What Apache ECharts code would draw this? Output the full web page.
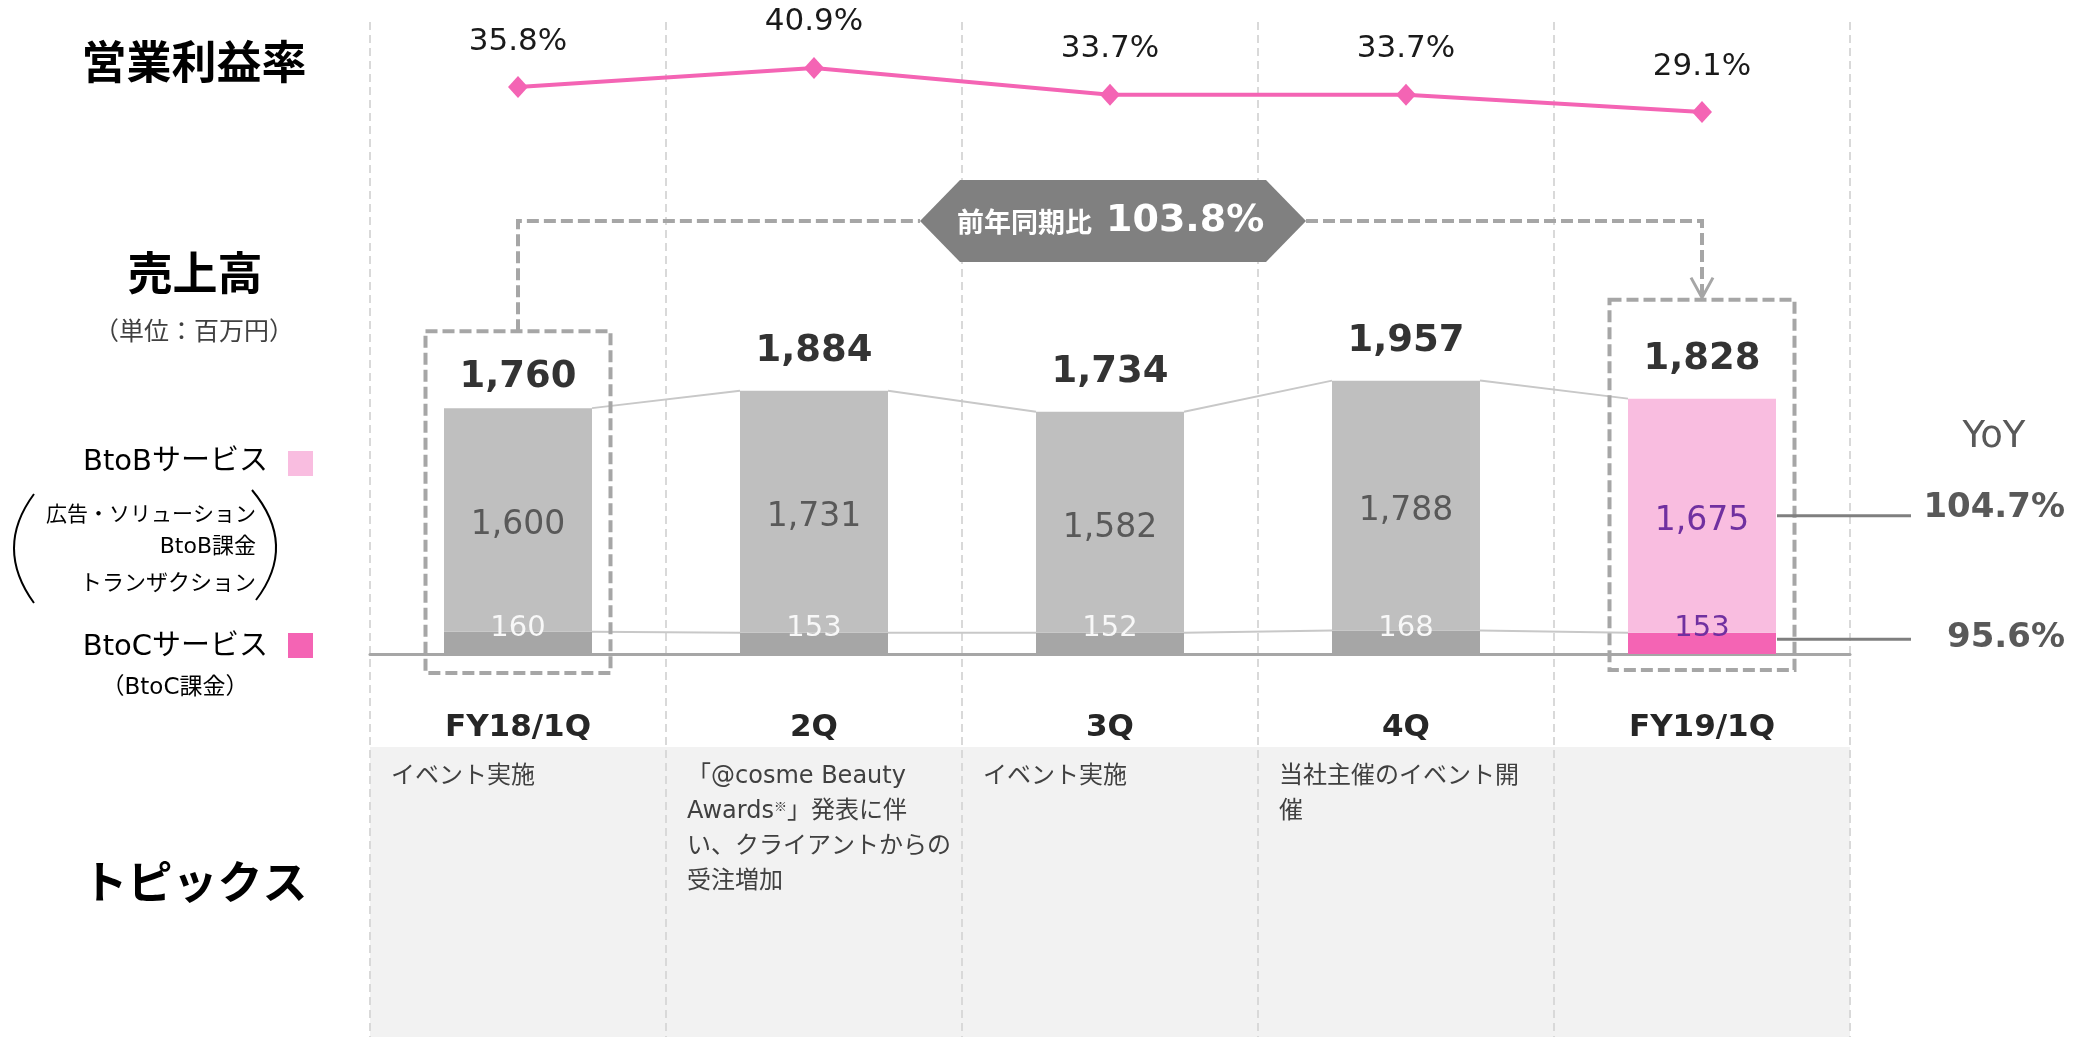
<!DOCTYPE html>
<html>
<head>
<meta charset="utf-8">
<title>営業利益率・売上高</title>
<script src="https://cdn.jsdelivr.net/npm/echarts@6/dist/echarts.min.js"></script>
<style>
  html, body { margin: 0; padding: 0; background: #fff; }
  #chart { width: 2091px; height: 1037px; }
</style>
</head>
<body>
<div id="chart"></div>
<script>
// データ
const categories = ['FY18/1Q', '2Q', '3Q', '4Q', 'FY19/1Q'];
const btobValues = [1600, 1731, 1582, 1788, 1675];
const btocValues = [160, 153, 152, 168, 153];
const totalValues = [1760, 1884, 1734, 1957, 1828];
const marginValues = [35.8, 40.9, 33.7, 33.7, 29.1];
const yoyLabels = ['104.7%', '95.6%'];
const badgeLabel = '103.8%';
const topics = [
    ['イベント実施'],
    ['「@cosme Beauty', '{n|Awards}{s|※}{n|」発表に伴}', 'い、クライアントからの', '受注増加'],
    ['イベント実施'],
    ['当社主催のイベント開', '催'],
    []
];
const currentIdx = 4;

const LATIN = '"DejaVu Sans", "Noto Sans CJK JP", sans-serif';
const CJK = '"Noto Sans CJK JP", "DejaVu Sans", sans-serif';
const GREY_B = '#BFBFBF', GREY_C = '#A6A6A6';
const PINK_B = '#F9BDE0', PINK_C = '#F464B4', PURPLE = '#7030A0';

const comma = v => String(v).replace(/\B(?=(\d{3})+(?!\d))/g, ',');

const chart = echarts.init(document.getElementById('chart'));

const option = {
    animation: false,
    grid: [
        { left: 370, width: 1480, top: 304.75, height: 349.25 },   // 売上高
        { left: 370, width: 1480, top: 34, height: 186.5 },        // 営業利益率
        { left: 370, width: 1480, top: 22, bottom: 0 }             // 区切り線
    ],
    xAxis: [
        {
            gridIndex: 0, type: 'category', data: categories,
            axisLine: { lineStyle: { color: '#A6A6A6', width: 3 } },
            axisTick: { show: false },
            axisLabel: { margin: 58, fontSize: 31, fontWeight: 'bold', fontFamily: LATIN, color: '#262626' }
        },
        { gridIndex: 1, type: 'category', data: categories, show: false },
        {
            gridIndex: 2, type: 'category', data: categories,
            axisLine: { show: false }, axisTick: { show: false }, axisLabel: { show: false },
            splitLine: { show: true, lineStyle: { color: '#D9D9D9', width: 2, type: [8, 5] } }
        }
    ],
    yAxis: [
        { gridIndex: 0, type: 'value', min: 0, max: 2500, show: false },
        { gridIndex: 1, type: 'value', min: 0, max: 50, show: false },
        { gridIndex: 2, type: 'value', show: false }
    ],
    series: [
        {
            name: 'BtoCサービス', type: 'bar', stack: 'sales', barWidth: '50%',
            xAxisIndex: 0, yAxisIndex: 0,
            data: btocValues.map((v, i) => ({
                value: v,
                itemStyle: { color: i === currentIdx ? PINK_C : GREY_C },
                label: { color: i === currentIdx ? PURPLE : '#F8F8F8' }
            })),
            label: { show: true, position: 'insideBottom', distance: 11, fontSize: 29, fontFamily: LATIN }
        },
        {
            name: 'BtoBサービス', type: 'bar', stack: 'sales', barWidth: '50%',
            xAxisIndex: 0, yAxisIndex: 0,
            data: btobValues.map((v, i) => ({
                value: v,
                itemStyle: { color: i === currentIdx ? PINK_B : GREY_B },
                label: { color: i === currentIdx ? PURPLE : '#595959' }
            })),
            label: { show: true, position: 'inside', offset: [0, 6], fontSize: 33, fontFamily: LATIN, formatter: p => comma(p.value) }
        },
        {
            // 合計ラベル
            name: '合計', type: 'scatter', xAxisIndex: 0, yAxisIndex: 0,
            symbolSize: 1, itemStyle: { color: 'rgba(0,0,0,0)' },
            data: totalValues.map((v, i) => ({ value: v, label: i === 0 ? { offset: [0, 8] } : {} })),
            label: {
                show: true, position: 'top', distance: 20,
                fontSize: 37, fontWeight: 'bold', fontFamily: LATIN, color: '#000',
                formatter: p => comma(p.value)
            }
        },
        {
            // 棒グラフ間の連結線
            type: 'custom', xAxisIndex: 0, yAxisIndex: 0, silent: true, z: 1,
            data: totalValues.slice(0, -1).map((v, i) => [i, v, totalValues[i + 1], btocValues[i], btocValues[i + 1]]),
            encode: { x: 0, y: 1 },
            renderItem: (params, api) => {
                const i = api.value(0);
                const half = api.size([1, 0])[0] * 0.25;
                const a = api.coord([i, api.value(1)]);
                const b = api.coord([i + 1, api.value(2)]);
                const c = api.coord([i, api.value(3)]);
                const d = api.coord([i + 1, api.value(4)]);
                const st = { stroke: '#C8C8C8', lineWidth: 2 };
                return {
                    type: 'group',
                    children: [
                        { type: 'line', shape: { x1: a[0] + half, y1: a[1], x2: b[0] - half, y2: b[1] }, style: st },
                        { type: 'line', shape: { x1: c[0] + half, y1: c[1], x2: d[0] - half, y2: d[1] }, style: st }
                    ]
                };
            }
        },
        {
            name: '営業利益率', type: 'line', xAxisIndex: 1, yAxisIndex: 1,
            data: marginValues,
            symbol: 'diamond', symbolSize: [20, 22],
            lineStyle: { color: PINK_C, width: 4 },
            itemStyle: { color: PINK_C },
            label: { show: true, position: 'top', distance: 19, formatter: '{c}%', fontSize: 31, fontFamily: LATIN, color: '#1A1A1A' }
        }
    ]
};
chart.setOption(option);

// 注釈（座標はスケールから求める）
const toPx = (i, v) => chart.convertToPixel({ seriesIndex: 0 }, [i, v]);
const x0 = toPx(0, 0)[0];
const band = toPx(1, 0)[0] - x0;
const baseY = toPx(0, 0)[1];
const cx0 = x0, cx2 = toPx(2, 0)[0], cx4 = toPx(4, 0)[0];
const LINK_Y = 221;

function txt(x, y, text, size, opt) {
    opt = opt || {};
    return {
        type: 'text', x: x, y: y, z: 100,
        style: Object.assign({
            text: text, fontSize: size, fontFamily: opt.family || CJK, fontWeight: opt.weight || 'normal',
            fill: opt.color || '#000',
            textAlign: opt.align || 'center', align: opt.align || 'center',
            textVerticalAlign: 'middle', verticalAlign: 'middle'
        }, opt.extra || {})
    };
}
const dashed = { stroke: '#A6A6A6', lineWidth: 4, lineDash: [12, 5], fill: null };

const deco = [];
// トピックス背景
deco.push({ type: 'rect', z: -100, shape: { x: x0 - band / 2, y: 747, width: band * 5, height: 1037 - 747 }, style: { fill: '#F2F2F2' } });

// 見出し
deco.push(txt(194, 62, '営業利益率', 45, { weight: 'bold' }));
deco.push(txt(195, 273, '売上高', 45, { weight: 'bold' }));
deco.push(txt(194, 330, '（単位：百万円）', 25, { color: '#404040' }));
deco.push(txt(195, 882, 'トピックス', 45, { weight: 'bold' }));

// 凡例
deco.push(txt(268, 462, 'BtoBサービス', 29, { family: LATIN, align: 'right' }));
deco.push({ type: 'rect', z: 100, shape: { x: 288, y: 451, width: 25, height: 25 }, style: { fill: PINK_B } });
deco.push(txt(256, 513, '広告・ソリューション', 21, { align: 'right' }));
deco.push(txt(256, 547, 'BtoB課金', 22, { family: LATIN, align: 'right' }));
deco.push(txt(256, 582, 'トランザクション', 22, { align: 'right' }));
deco.push({ type: 'bezierCurve', z: 100, shape: { x1: 34, y1: 494, cpx1: -6, cpy1: 548, x2: 34, y2: 603 }, style: { stroke: '#000', lineWidth: 2, fill: null } });
deco.push({ type: 'bezierCurve', z: 100, shape: { x1: 252, y1: 490, cpx1: 298, cpy1: 545, x2: 256, y2: 600 }, style: { stroke: '#000', lineWidth: 2, fill: null } });
deco.push(txt(268, 647, 'BtoCサービス', 29, { family: LATIN, align: 'right' }));
deco.push({ type: 'rect', z: 100, shape: { x: 288, y: 633, width: 25, height: 25 }, style: { fill: PINK_C } });
deco.push(txt(175, 688, '（BtoC課金）', 23, { family: LATIN }));

// 比較枠
const box1Top = toPx(0, totalValues[0])[1] - 77;
const box2Top = toPx(4, totalValues[4])[1] - 99;
deco.push({ type: 'rect', z: 100, shape: { x: cx0 - band * 0.3125, y: box1Top, width: band * 0.625, height: baseY + 19 - box1Top }, style: dashed });
deco.push({ type: 'rect', z: 100, shape: { x: cx4 - band * 0.3125, y: box2Top, width: band * 0.625, height: baseY + 16 - box2Top }, style: dashed });

// 前年同期比バッジ
const bc = cx2 + 3;
deco.push({ type: 'polyline', z: 100, shape: { points: [[cx0, box1Top], [cx0, LINK_Y], [bc - 193, LINK_Y]] }, style: dashed });
deco.push({ type: 'polyline', z: 100, shape: { points: [[bc + 193, LINK_Y], [cx4, LINK_Y], [cx4, box2Top - 3]] }, style: dashed });
deco.push({ type: 'polyline', z: 101, shape: { points: [[cx4 - 11, box2Top - 22], [cx4, box2Top - 2], [cx4 + 11, box2Top - 22]] }, style: { stroke: '#A6A6A6', lineWidth: 3, fill: null } });
deco.push({
    type: 'polygon', z: 100,
    shape: { points: [[bc - 193, LINK_Y], [bc - 153, LINK_Y - 41], [bc + 153, LINK_Y - 41], [bc + 193, LINK_Y], [bc + 153, LINK_Y + 41], [bc - 153, LINK_Y + 41]] },
    style: { fill: '#808080' }
});
deco.push(txt(bc - 21, LINK_Y + 1, '前年同期比', 27, { weight: 'bold', color: '#fff', align: 'right' }));
deco.push(txt(bc - 7, LINK_Y, badgeLabel, 38, { family: LATIN, weight: 'bold', color: '#fff', align: 'left' }));

// YoY
const barRight = cx4 + band * 0.25;
const yB = toPx(4, btocValues[4] + btobValues[4] / 2)[1];
const yC = toPx(4, btocValues[4] / 2)[1];
deco.push(txt(1994, 437, 'YoY', 37, { family: LATIN, color: '#595959' }));
deco.push({ type: 'line', z: 100, shape: { x1: barRight + 1, y1: yB, x2: 1911, y2: yB }, style: { stroke: '#7F7F7F', lineWidth: 3 } });
deco.push({ type: 'line', z: 100, shape: { x1: barRight + 1, y1: yC - 4, x2: 1911, y2: yC - 4 }, style: { stroke: '#7F7F7F', lineWidth: 3 } });
deco.push(txt(2065, yB - 7, yoyLabels[0], 34, { family: LATIN, weight: 'bold', color: '#595959', align: 'right' }));
deco.push(txt(2065, yC - 5, yoyLabels[1], 34, { family: LATIN, weight: 'bold', color: '#595959', align: 'right' }));

// トピックス本文
topics.forEach((lines, i) => {
    const left = toPx(i, 0)[0] - band / 2 + 21;
    lines.forEach((line, k) => {
        deco.push(txt(left, 777 + k * 35, line, 24, {
            family: LATIN, color: '#404040', align: 'left',
            extra: {
                rich: {
                    n: { fontSize: 24, fontFamily: LATIN, fill: '#404040' },
                    s: { fontSize: 13, fontFamily: CJK, fill: '#404040', verticalAlign: 'top' }
                }
            }
        }));
    });
});

chart.setOption({ graphic: deco });
</script>
</body>
</html>
